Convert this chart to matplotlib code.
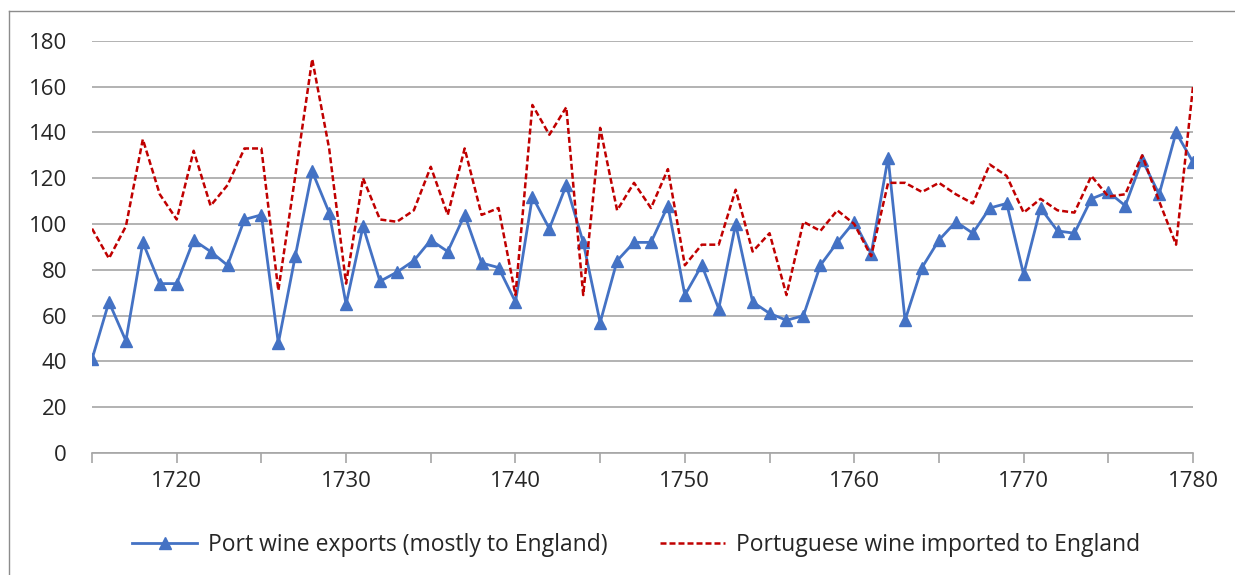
import matplotlib.pyplot as plt
from matplotlib.lines import Line2D

# Years 1715-1780
years = list(range(1715, 1781))

# Port wine exports (mostly to England)
port_exports = [41, 66, 49, 92, 74, 74, 93, 88, 82, 102,
                104, 48, 86, 123, 105, 65, 99, 75, 79, 84,
                93, 88, 104, 83, 81, 66, 112, 98, 117, 92,
                57, 84, 92, 92, 108, 69, 82, 63, 100, 66,
                61, 58, 60, 82, 92, 101, 87, 129, 58, 81,
                93, 101, 96, 107, 109, 78, 107, 97, 96, 111,
                114, 108, 128, 113, 140, 127]

# Portuguese wine imported to England
england_imports = [98, 85, 99, 137, 113, 102, 132, 108, 117, 133,
                   133, 71, 121, 172, 133, 74, 120, 102, 101, 106,
                   125, 104, 133, 104, 107, 69, 152, 139, 151, 69,
                   142, 106, 118, 107, 124, 82, 91, 91, 115, 88,
                   96, 69, 101, 97, 106, 100, 86, 118, 118, 114,
                   118, 113, 109, 126, 121, 105, 111, 106, 105, 121,
                   112, 113, 130, 110, 91, 160]

y_ticks = [0, 20, 40, 60, 80, 100, 120, 140, 160, 180]

plt.rcParams['font.family'] = ['Open Sans', 'DejaVu Sans']

fig = plt.figure(figsize=(12.35, 5.75), dpi=100)
ax = fig.add_axes([0.0745, 0.212, 0.8915, 0.717])

ax.plot(years, port_exports, color='#4472C4', linewidth=2.0, marker='^',
        markersize=9, label='Port wine exports (mostly to England)', zorder=3)
ax.plot(years, england_imports, color='#C00000', linewidth=1.8,
        linestyle=(0, (2.4, 1.2)), label='Portuguese wine imported to England', zorder=3)

ax.set_xlim(1715, 1780)
ax.set_ylim(0, 180)
ax.set_yticks(y_ticks)
ax.set_xticks(range(1715, 1781, 5))
ax.set_xticklabels(['' if y % 10 else str(y) for y in range(1715, 1781, 5)])

ax.grid(axis='y', color='#A6A6A6', linewidth=1.2)
ax.set_axisbelow(True)
for s in ['top', 'right', 'left']:
    ax.spines[s].set_visible(False)
ax.spines['bottom'].set_color('#A6A6A6')
ax.spines['bottom'].set_linewidth(1.2)
ax.tick_params(axis='y', length=0, labelsize=16, pad=18, labelcolor='#262626')
ax.tick_params(axis='x', length=7, width=1.2, color='#A6A6A6', labelsize=16,
               pad=6, labelcolor='#262626')

fig.legend(loc='center', bbox_to_anchor=(0.515, 0.052), ncol=2, frameon=False,
           fontsize=16.5, handlelength=2.85, handletextpad=0.45, columnspacing=2.3,
           labelcolor='#262626')

# border lines on the top and left of the chart area
fig.add_artist(Line2D([9 / 1235, 1], [1 - 11 / 575, 1 - 11 / 575], transform=fig.transFigure,
                      color='#8C8C8C', linewidth=1))
fig.add_artist(Line2D([9 / 1235, 9 / 1235], [0, 1 - 11 / 575], transform=fig.transFigure,
                      color='#8C8C8C', linewidth=1))

fig.savefig('out.png', dpi=100)
